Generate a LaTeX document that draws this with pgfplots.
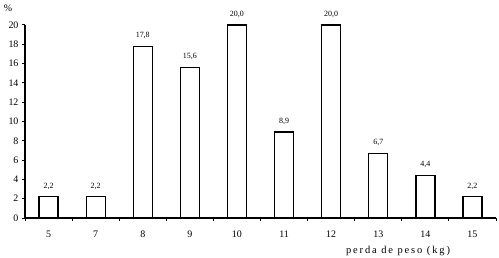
\documentclass[border=0pt]{standalone}
\usepackage{pgfplots}
\pgfplotsset{compat=1.18}
\usepackage{fontspec}
\setmainfont{Liberation Serif}
\begin{document}
\begin{tikzpicture}
\begin{axis}[
  scale only axis, width=471bp, height=193bp,
  xmin=0.5, xmax=10.5, ymin=0, ymax=20,
  axis lines*=left,
  axis line style={line width=1.3bp},
  ybar, bar width=19bp,
  clip=false,
  /pgf/number format/assume math mode=true,
  tick align=outside,
  ytick={0,2,...,20},
  major y tick style={line width=1bp, black},
  major tick length=3bp,
  xtick={1,...,10},
  xticklabels={5,7,8,9,10,11,12,13,14,15},
  major x tick style={draw=none},
  minor xtick={0.5,1.5,...,10.5},
  minor x tick style={line width=1bp, black},
  minor tick length=3bp,
  tick label style={font=\fontsize{10}{10}\selectfont},
  xticklabel style={yshift=-6bp},
  nodes near coords={\pgfmathprintnumber[fixed,fixed zerofill,precision=1,use comma,assume math mode=true]{\pgfplotspointmeta}},
  every node near coord/.append style={font=\fontsize{8}{8}\selectfont, yshift=3.5bp},
]
\addplot[draw=black, fill=white, line width=1.3bp] coordinates {
  (1,2.2) (2,2.2) (3,17.8) (4,15.6) (5,20.0) (6,8.9) (7,20.0) (8,6.7) (9,4.4) (10,2.2)
};
\node[font=\fontsize{10}{10}\selectfont] at ([shift={(-17bp,17bp)}]rel axis cs:0,1) {\%};
\node[font=\fontsize{10.5}{11}\selectfont\addfontfeature{LetterSpace=18}] at ([shift={(0bp,-33bp)}]axis cs:8.42,0) {perda de peso (kg)};
\end{axis}
\pgfresetboundingbox
\path[use as bounding box] ([shift={(-25bp,-40bp)}]current axis.south west) rectangle ([shift={(3bp,25bp)}]current axis.north east);
\end{tikzpicture}
\end{document}
